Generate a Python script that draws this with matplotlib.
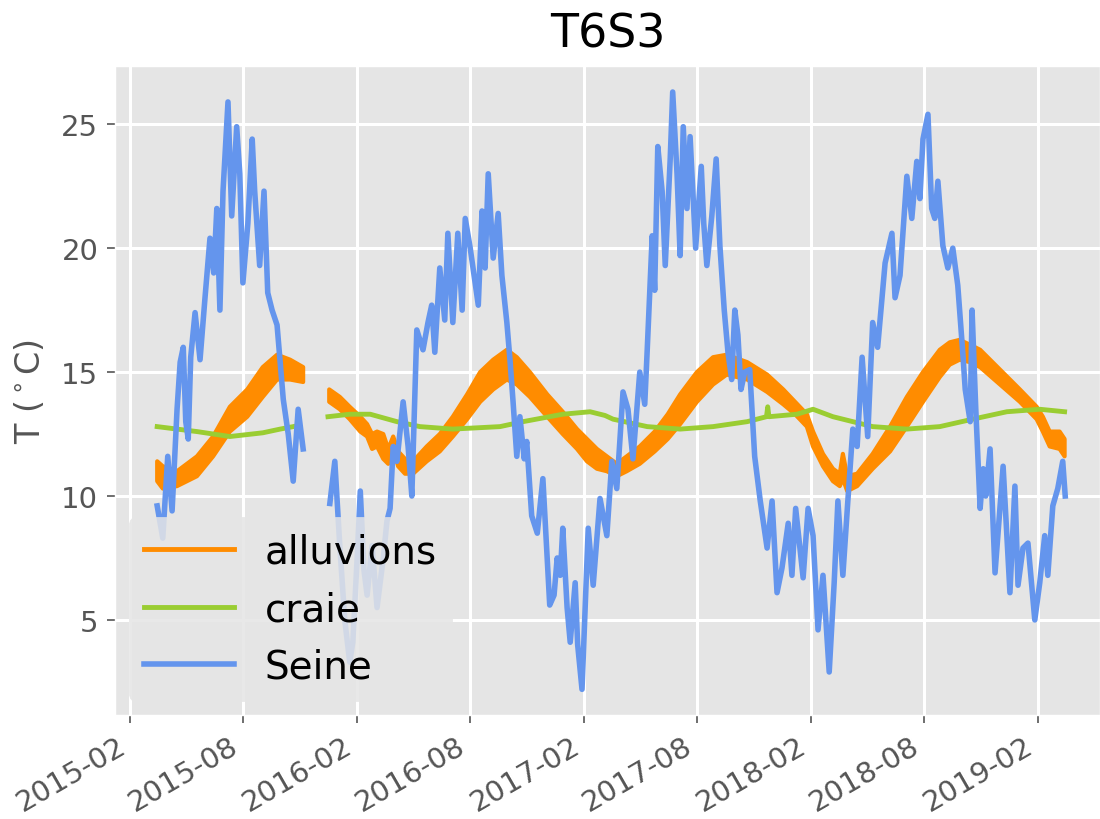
import numpy as np
import matplotlib
matplotlib.use('Agg')
import matplotlib.pyplot as plt
import matplotlib.dates as mdates
from matplotlib.lines import Line2D

# days counted from 2015-02-01
t0 = np.datetime64('2015-02-01')

# Seine (river), gap over the autumn 2015 outage
seine_days = [43, 52, 60, 67, 75, 80, 85, 89, 93, 97, 104, 112, 120, 128, 134, 139, 144, 149,
              157, 163, 171, 176, 181, 189, 196, 200, 208, 215, 221, 228, 236, 246, 254, 262,
              270, 278, 300,
              321, 329, 337, 345, 353, 358, 365, 370, 376, 381, 389, 397, 407, 413, 418, 423,
              429, 439, 447, 453, 461, 471, 479, 485, 490, 498, 506, 511, 519, 527, 534, 539,
              547, 551, 560, 566, 571, 576, 584, 592, 598, 606, 611, 616, 622, 627, 634, 638,
              646, 655, 664, 675, 682, 687, 692, 696, 703, 708, 716, 720, 727, 737, 745, 756,
              767, 775, 783, 793, 801, 809, 820, 828, 832, 840, 844, 849, 856, 861, 869, 873,
              880, 885, 890, 896, 901, 910, 919, 923, 928, 936, 943, 949, 956, 962, 968, 973,
              978, 983, 989, 997, 1005, 1014, 1025, 1033, 1041, 1049, 1059, 1065, 1071, 1083,
              1091, 1099, 1107, 1115, 1125, 1133, 1139, 1147, 1155, 1163, 1170, 1178, 1187,
              1195, 1203, 1215, 1226, 1231, 1239, 1250, 1258, 1266, 1271, 1276, 1284, 1290,
              1295, 1300, 1308, 1316, 1324, 1332, 1340, 1344, 1352, 1355, 1361, 1368, 1373,
              1377, 1384, 1392, 1405, 1416, 1424, 1429, 1437, 1445, 1456, 1464, 1472, 1477,
              1485, 1493, 1501, 1505]
seine_T = [9.6, 8.3, 11.6, 9.4, 13.5, 15.4, 16.0, 13.0, 12.3, 15.6, 17.4, 15.5, 18.0, 20.4,
           19.0, 21.6, 17.5, 22.3, 25.9, 21.3, 24.9, 23.0, 18.6, 21.0, 24.4, 22.3, 19.3, 22.3,
           18.2, 17.5, 16.9, 13.9, 12.5, 10.6, 13.5, 11.9, np.nan,
           9.7, 11.4, 8.0, 5.0, 3.3, 4.1, 7.5, 10.2, 7.0, 6.0, 8.0, 5.5, 7.5, 9.0, 9.5, 12.0,
           11.4, 13.8, 12.0, 10.0, 16.7, 15.9, 17.0, 17.7, 15.8, 19.2, 17.1, 20.6, 17.0, 20.6,
           17.5, 21.2, 20.0, 19.3, 17.7, 21.5, 19.2, 23.0, 19.6, 21.4, 18.9, 17.0, 15.5, 13.8,
           11.6, 13.2, 11.5, 12.2, 9.2, 8.5, 10.7, 5.6, 6.0, 7.5, 6.8, 8.7, 5.5, 4.1, 6.5, 4.0,
           2.2, 8.7, 6.4, 9.9, 8.4, 11.4, 10.3, 14.2, 13.5, 11.5, 15.0, 13.7, 15.9, 20.5, 18.3,
           24.1, 22.3, 19.3, 23.6, 26.3, 23.0, 19.7, 24.9, 21.6, 24.5, 20.0, 23.3, 21.0, 19.3,
           21.3, 23.6, 20.1, 17.5, 15.8, 14.7, 17.5, 16.5, 14.3, 15.0, 15.1, 11.6, 9.8, 7.9,
           9.8, 6.1, 7.1, 8.9, 6.8, 9.5, 6.7, 9.5, 8.4, 4.6, 6.8, 2.9, 6.5, 9.8, 6.8, 9.8, 12.7,
           12.0, 15.6, 12.4, 17.0, 16.0, 19.4, 20.6, 18.0, 18.9, 22.9, 21.2, 23.5, 22.0, 24.4,
           25.4, 21.6, 21.2, 22.7, 20.1, 19.2, 20.0, 18.5, 15.8, 14.3, 13.0, 17.5, 13.5, 9.5,
           11.1, 10.0, 11.9, 6.9, 11.2, 6.1, 10.4, 6.4, 7.9, 8.1, 5.0, 6.5, 8.4, 6.8, 9.6, 10.3,
           11.4, 10.0]

# alluvions aquifer: daily min / max envelope
alluv_days = [43, 52, 75, 107, 133, 160, 188, 213, 236, 257, 278, 300,
              320, 337, 353, 370, 381, 389, 397, 407, 415, 423, 431, 442, 455, 477, 498, 519,
              542, 563, 584, 606, 622, 643, 671, 696, 719, 735, 751, 767, 783, 799, 820, 844,
              865, 885, 912, 938, 960, 993, 1025, 1051, 1070, 1089, 1099, 1115, 1131, 1142,
              1147, 1154, 1170, 1195, 1223, 1250, 1276, 1303, 1319, 1335, 1352, 1368, 1400,
              1432, 1459, 1469, 1480, 1496, 1504]
alluv_low = [10.6, 10.3, 10.4, 10.8, 11.6, 12.6, 13.2, 14.0, 14.7, 14.7, 14.6, np.nan,
             13.8, 13.5, 13.1, 12.6, 12.4, 11.9, 12.0, 11.5, 11.3, 11.9, 11.2, 10.9, 10.9,
             11.4, 11.8, 12.4, 13.1, 13.8, 14.3, 14.7, 14.5, 14.0, 13.2, 12.5, 11.9, 11.4,
             11.1, 11.0, 10.8, 11.0, 11.3, 11.8, 12.3, 12.9, 13.8, 14.5, 14.9, 14.7, 14.2,
             13.7, 13.3, 12.8, 12.0, 11.2, 10.6, 10.4, 10.7, 10.2, 10.4, 11.1, 11.8, 12.8,
             13.8, 14.8, 15.3, 15.5, 15.4, 15.2, 14.5, 13.8, 13.1, 12.6, 12.0, 11.9, 11.6]
alluv_high = [11.4, 11.2, 11.0, 11.6, 12.4, 13.6, 14.3, 15.2, 15.7, 15.5, 15.2, np.nan,
              14.3, 14.0, 13.6, 13.2, 12.9, 12.5, 12.6, 12.5, 11.9, 12.4, 11.8, 11.5, 11.4,
              12.0, 12.5, 13.2, 14.1, 15.0, 15.5, 15.9, 15.6, 15.0, 14.1, 13.4, 12.7, 12.3,
              11.9, 11.6, 11.3, 11.6, 12.0, 12.6, 13.3, 14.1, 15.0, 15.6, 15.7, 15.4, 14.9,
              14.3, 13.8, 13.3, 12.6, 11.7, 11.1, 10.9, 11.7, 10.8, 10.9, 11.7, 12.8, 14.0,
              15.0, 15.9, 16.2, 16.3, 16.1, 15.9, 15.1, 14.3, 13.6, 13.2, 12.6, 12.6, 12.3]

# chalk aquifer
craie_days = [43, 75, 107, 160, 213, 241, 262, 300,
              318, 353, 386, 429, 466, 519, 595, 632, 696, 740, 764, 777, 832, 885, 938, 993,
              1024, 1026, 1028, 1073, 1099, 1131, 1163, 1195, 1250, 1303, 1356, 1411, 1464,
              1504]
craie_T = [12.8, 12.7, 12.6, 12.4, 12.55, 12.7, 12.8, np.nan,
           13.2, 13.3, 13.3, 13.0, 12.8, 12.7, 12.8, 13.0, 13.3, 13.4, 13.25, 13.1, 12.8,
           12.7, 12.8, 13.0, 13.2, 13.6, 13.2, 13.3, 13.5, 13.2, 13.0, 12.8, 12.7, 12.8, 13.1,
           13.4, 13.5, 13.4]


def to_dates(days):
    return t0 + np.array(days).astype('timedelta64[D]')


plt.style.use('ggplot')
plt.rcParams['font.family'] = ['DejaVu Sans']
plt.rcParams['grid.linewidth'] = 2.2

fig, ax = plt.subplots(figsize=(11, 8.2), dpi=100)
fig.subplots_adjust(left=0.1045, right=1.0, bottom=0.127, top=0.918)

c_all, c_cra, c_sei = 'darkorange', 'yellowgreen', 'cornflowerblue'

ax.fill_between(to_dates(alluv_days), alluv_low, alluv_high, color=c_all, lw=3,
                edgecolor=c_all)
ax.plot(to_dates(craie_days), craie_T, color=c_cra, lw=3.5)
ax.plot(to_dates(seine_days), seine_T, color=c_sei, lw=4)

ax.set_xlim(t0 - np.timedelta64(25, 'D'), t0 + np.timedelta64(1561, 'D'))
ax.set_ylim(1.17, 27.34)
ax.set_yticks([5, 10, 15, 20, 25])

ax.xaxis.set_major_locator(mdates.MonthLocator(bymonth=(2, 8)))
ax.xaxis.set_major_formatter(mdates.DateFormatter('%Y-%m'))
ax.tick_params(labelsize=21, colors='#555555', length=6, width=1.2, pad=6)
for lab in ax.get_xticklabels():
    lab.set_rotation(30)
    lab.set_ha('right')

ax.set_title('T6S3', fontsize=33, color='black', pad=14)
ax.set_ylabel('T ($^\\circ$C)', fontsize=24, color='#555555', labelpad=10)

handles = [Line2D([], [], color=c_all, lw=3.5),
           Line2D([], [], color=c_cra, lw=3.5),
           Line2D([], [], color=c_sei, lw=4)]
ax.legend(handles, ['alluvions', 'craie', 'Seine'], loc='lower left', fontsize=28,
          handlelength=2.3, borderaxespad=0.35, framealpha=0.85,
          facecolor='#E5E5E5', edgecolor='#E5E5E5')

plt.savefig('out.png', dpi=100)
